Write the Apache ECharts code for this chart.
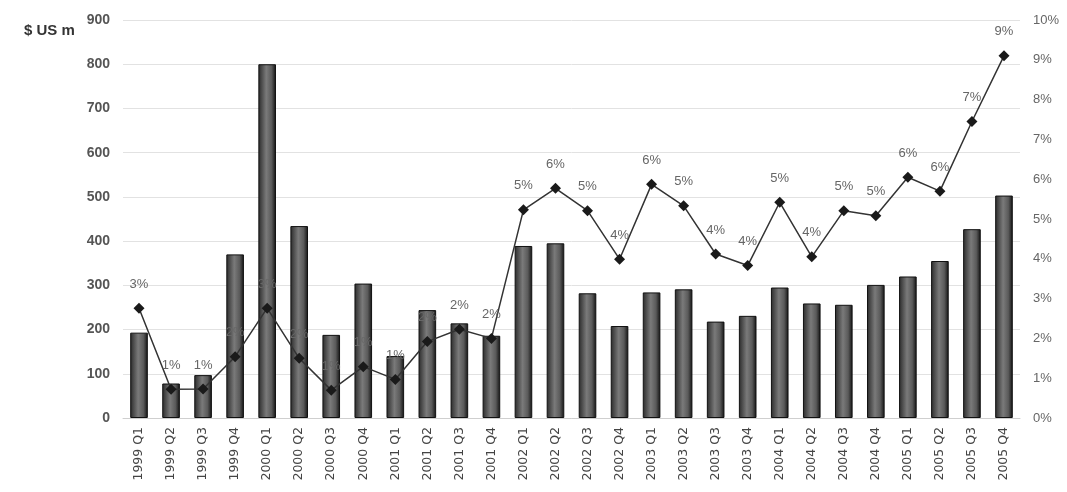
<!DOCTYPE html>
<html>
<head>
<meta charset="utf-8">
<script src="https://cdn.jsdelivr.net/npm/echarts@6/dist/echarts.min.js"></script>
<style>
  html, body { margin: 0; padding: 0; background: #fff; }
  #chart { width: 1067px; height: 492px; }
</style>
</head>
<body>
<div id="chart"></div>
<script>
// Quarterly values: investment ($ US m, bars) and share (%, line)
const quarters = [
  '1999 Q1', '1999 Q2', '1999 Q3', '1999 Q4',
  '2000 Q1', '2000 Q2', '2000 Q3', '2000 Q4',
  '2001 Q1', '2001 Q2', '2001 Q3', '2001 Q4',
  '2002 Q1', '2002 Q2', '2002 Q3', '2002 Q4',
  '2003 Q1', '2003 Q2', '2003 Q3', '2003 Q4',
  '2004 Q1', '2004 Q2', '2004 Q3', '2004 Q4',
  '2005 Q1', '2005 Q2', '2005 Q3', '2005 Q4'
];
const amountUSm = [
  193, 78, 97, 370,
  800, 434, 188, 304,
  140, 244, 214, 186,
  389, 395, 282, 208,
  284, 291, 218, 231,
  295, 259, 256, 301,
  320, 355, 427, 503
];
const sharePct = [
  2.76, 0.72, 0.73, 1.54,
  2.76, 1.50, 0.70, 1.29,
  0.97, 1.92, 2.23, 2.00,
  5.23, 5.77, 5.21, 3.99,
  5.87, 5.33, 4.12, 3.83,
  5.42, 4.05, 5.21, 5.08,
  6.05, 5.70, 7.45, 9.10
];
const leftTicks = { min: 0, max: 900, step: 100 };
const rightTicks = { min: 0, max: 10, step: 1 };

const chart = echarts.init(document.getElementById('chart'), null, { renderer: 'canvas' });

const barFill = new echarts.graphic.LinearGradient(0, 0, 1, 0, [
  { offset: 0, color: '#2a2a2a' },
  { offset: 0.45, color: '#7a7a7a' },
  { offset: 0.75, color: '#5a5a5a' },
  { offset: 1, color: '#111111' }
]);

chart.setOption({
  animation: false,
  backgroundColor: '#ffffff',
  title: {
    text: '$ US m',
    left: 19,
    top: 18,
    textStyle: { fontFamily: 'Liberation Sans, Arial', fontSize: 15, fontWeight: 'bold', color: '#333' }
  },
  grid: { left: 123, right: 47, top: 20, bottom: 74, containLabel: false },
  xAxis: {
    type: 'category',
    data: quarters,
    axisLine: { lineStyle: { color: '#cfcfcf', width: 1 } },
    axisTick: { show: false },
    axisLabel: {
      rotate: 90,
      interval: 0,
      margin: 9,
      fontFamily: 'DejaVu Sans',
      fontSize: 12.5,
      color: '#444'
    }
  },
  yAxis: [
    {
      type: 'value',
      min: leftTicks.min, max: leftTicks.max, interval: leftTicks.step,
      axisLine: { show: false },
      axisTick: { show: false },
      axisLabel: { margin: 13, fontFamily: 'Liberation Sans, Arial', fontSize: 14, fontWeight: 'bold', color: '#555' },
      splitLine: { lineStyle: { color: '#e2e2e2', width: 1 } }
    },
    {
      type: 'value',
      min: rightTicks.min, max: rightTicks.max, interval: rightTicks.step,
      position: 'right',
      axisLine: { show: false },
      axisTick: { show: false },
      axisLabel: { margin: 13, formatter: '{value}%', fontFamily: 'Liberation Sans, Arial', fontSize: 13, color: '#666' },
      splitLine: { show: false }
    }
  ],
  series: [
    {
      name: 'Amount',
      type: 'bar',
      yAxisIndex: 0,
      data: amountUSm,
      barWidth: '55%',
      itemStyle: { color: barFill, borderColor: '#111', borderWidth: 1 }
    },
    {
      name: 'Share',
      type: 'line',
      yAxisIndex: 1,
      data: sharePct,
      symbol: 'diamond',
      symbolSize: 11,
      lineStyle: { color: '#333', width: 1.5 },
      itemStyle: { color: '#1a1a1a' },
      label: {
        show: true,
        position: 'top',
        distance: 12,
        formatter: p => Math.round(p.value) + '%',
        fontFamily: 'Liberation Sans, Arial',
        fontSize: 13,
        color: '#666'
      },
      z: 5
    }
  ]
});
</script>
</body>
</html>
